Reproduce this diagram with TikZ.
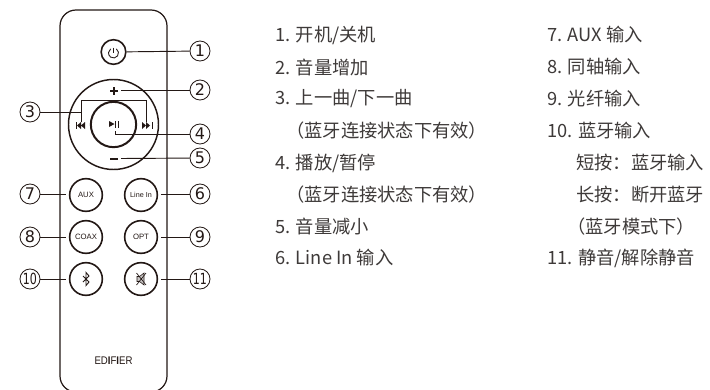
\documentclass[tikz,border=0pt]{standalone}
\usepackage{fontspec}
\usepackage{graphicx}
\setmainfont{Noto Sans CJK SC}
\newfontfamily\digitfont{DejaVu Sans}
\newfontfamily\btnfont{Liberation Sans}
\definecolor{ink}{HTML}{231815}
\definecolor{txt}{HTML}{3E3A39}
\tikzset{
  x=0.75pt,y=-0.75pt,
  body/.style={draw=ink,line width=0.9pt},
  btn/.style={circle,draw=ink,line width=1.2pt,minimum size=24.5pt,inner sep=0pt,font=\btnfont\fontsize{5.8}{6}\selectfont,text=ink},
  ring/.style={circle,draw=ink,inner sep=0pt},
  numc/.style={circle,draw=ink,line width=0.65pt,minimum size=15pt,inner sep=0pt,font=\digitfont\fontsize{12}{12}\selectfont,text=ink},
  lead/.style={draw=ink,line width=0.7pt},
  icon/.style={draw=ink,line width=0.65pt},
  iconf/.style={fill=ink,draw=none},
  item/.style={anchor=west,inner sep=0pt,font=\fontsize{13.7}{15}\selectfont,text=txt},
}
\newcommand{\twodig}[1]{\fontsize{11.5}{12}\selectfont\scalebox{0.72}[1]{#1}}
\begin{document}
\begin{tikzpicture}
\path[use as bounding box,clip] (0,0) rectangle (710,389);
\fill[white] (0,0) rectangle (710,389);
% body
\draw[body,rounded corners=12pt] (60,200) -- (60,10) -- (167,10) -- (167,392) -- (60,392) -- cycle;
% buttons
\node[btn,minimum size=18.5pt] (power) at (113.5,52) {};
\node[ring,line width=1.1pt,minimum size=67.5pt] (wheel) at (113.5,124.5) {};
\node[ring,line width=1.5pt,minimum size=34pt] (play) at (113.5,124.5) {};
\node[btn] (aux) at (86,195) {AUX};
\node[btn] (linein) at (141,195) {\fontsize{5.4}{6}\selectfont Line In};
\node[btn] (coax) at (86,237) {COAX};
\node[btn] (opt) at (141,237) {OPT};
\node[btn] (bt) at (86,279) {};
\node[btn] (mute) at (141,279) {};
% number circles
\node[numc] (n1) at (200,51) {1};
\node[numc] (n2) at (200,90) {2};
\node[numc] (n3) at (30,112) {3};
\node[numc] (n4) at (200,134) {4};
\node[numc] (n5) at (200,158) {5};
\node[numc] (n6) at (200,194) {6};
\node[numc] (n7) at (30,194) {7};
\node[numc] (n8) at (30,237) {8};
\node[numc] (n9) at (200,237) {9};
\node[numc] (n10) at (30,279) {\twodig{10}};
\node[numc] (n11) at (200,279) {\twodig{11}};
% power icon
\draw[icon] (113.5,47.5) -- (113.5,53);
\draw[icon] (116.37,48.9) arc[start angle=-55,end angle=235,radius=5];
% plus / minus
\draw[ink,line width=1.3pt] (110,91) -- (118,91) (114,87) -- (114,95);
\fill[ink] (110,158) rectangle (118,160);
% prev
\fill[iconf] (85,122) -- (85,129) -- (81,125.5) -- cycle (81,122) -- (81,129) -- (77,125.5) -- cycle;
\draw[icon,line width=0.5pt] (76,122) -- (76,129);
% next
\fill[iconf] (142,122) -- (142,129) -- (146,125.5) -- cycle (146,122) -- (146,129) -- (150,125.5) -- cycle;
\draw[icon,line width=0.5pt] (152,122) -- (152,129);
% play/pause
\fill[iconf] (109,121) -- (109,127) -- (114.5,124) -- cycle;
\draw[icon,line width=0.6pt] (115.8,121) -- (115.8,127.5) (118,121) -- (118,127.5);
% bluetooth icon
\draw[icon,line width=0.7pt] (83,276) -- (89,282) -- (86,285.5) -- (86,272.5) -- (89,276) -- (83,282);
% mute icon
\draw[icon,line width=0.45pt,fill=ink!25] (137,276.5) -- (139.5,276.5) -- (144,273) -- (144,285) -- (139.5,281.5) -- (137,281.5) -- cycle;
\draw[icon,line width=0.5pt] (136.5,273) -- (146,285) (146,273) -- (136.5,285);
% connectors
\coordinate (plusend) at (121,90);
\coordinate (minusend) at (121,158.5);
\coordinate (prevtop) at (81,122);
\coordinate (nexttop) at (146,122);
\coordinate (playend) at (115,131);
\draw[lead] (power) -- (n1);
\draw[lead] (plusend) -- (n2);
\draw[lead] (n3) -- (81,112);
\draw[lead] (prevtop) -- (81,100) -- (146,100) -- (nexttop);
\draw[lead] (playend) |- (n4);
\draw[lead] (minusend) -- (n5);
\draw[lead,shorten <=2pt] (linein.east |- n6) -- (n6);
\draw[lead,shorten >=2pt] (n7) -- (aux.west |- n7);
\draw[lead,shorten >=2pt] (n8) -- (coax);
\draw[lead,shorten <=2pt] (opt) -- (n9);
\draw[lead,shorten >=2pt] (n10) -- (bt);
\draw[lead,shorten <=2pt] (mute) -- (n11);
% brand
\node[inner sep=0pt,text=ink,font=\btnfont\fontsize{8.3}{9}\selectfont] (brand) at (113.5,361) {\scalebox{0.87}[1]{ED{\bfseries I}F{\bfseries I}ER}};
% list left
\node[item] (l1) at (275,35) {1. 开机/关机};
\node[item] (l2) at (275,67) {2. 音量增加};
\node[item] (l3) at (275,99) {3. 上一曲/下一曲};
\node[item] (l3b) at (286,130.5) {（蓝牙连接状态下有效）};
\node[item] (l4) at (275,163) {4. 播放/暂停};
\node[item] (l4b) at (286,194.5) {（蓝牙连接状态下有效）};
\node[item] (l5) at (275,226.5) {5. 音量减小};
\node[item] (l6) at (275,258) {6. Line In 输入};
% list right
\node[item] (r7) at (547,35) {7. AUX 输入};
\node[item] (r8) at (547,67) {8. 同轴输入};
\node[item] (r9) at (547,99) {9. 光纤输入};
\node[item] (r10) at (547,130.5) {10. 蓝牙输入};
\node[item] (r10a) at (576,163) {短按：蓝牙输入};
\node[item] (r10b) at (576,194.5) {长按：断开蓝牙};
\node[item] (r10c) at (567,226.5) {（蓝牙模式下）};
\node[item] (r11) at (547,258) {11. 静音/解除静音};
\end{tikzpicture}
\end{document}
